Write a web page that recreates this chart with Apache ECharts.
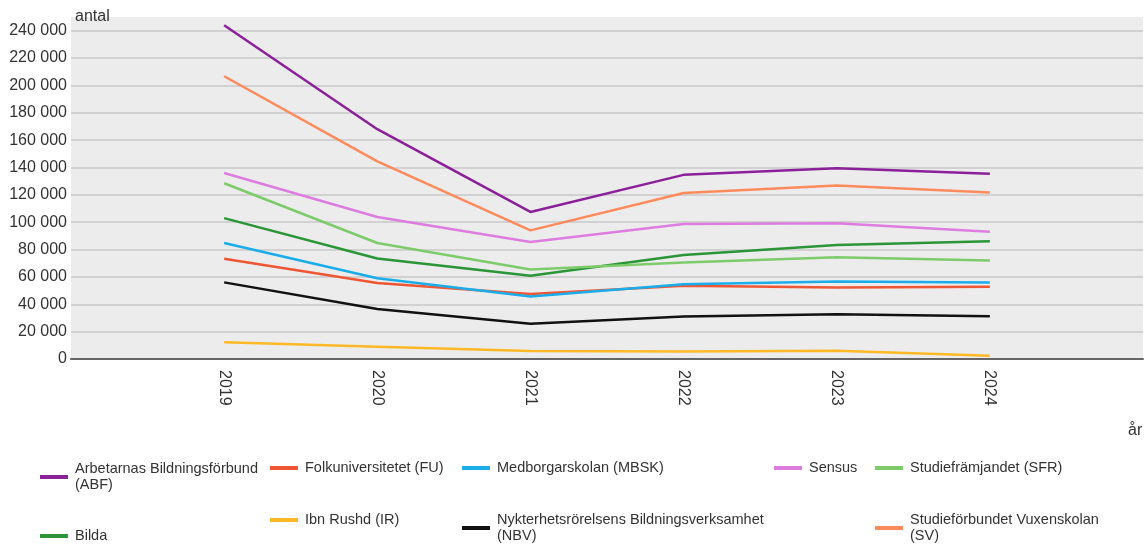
<!DOCTYPE html>
<html>
<head>
<meta charset="utf-8">
<script src="https://cdn.jsdelivr.net/npm/echarts@6/dist/echarts.min.js"></script>
<style>
html,body{margin:0;padding:0;background:#fff;}
#chart{width:1148px;height:545px;}
</style>
</head>
<body>
<div id="chart"></div>
<script>
const years = [2019, 2020, 2021, 2022, 2023, 2024];
const seriesNames = [
  'Arbetarnas Bildningsförbund (ABF)',
  'Bilda',
  'Folkuniversitetet (FU)',
  'Ibn Rushd (IR)',
  'Medborgarskolan (MBSK)',
  'Nykterhetsrörelsens Bildningsverksamhet (NBV)',
  'Sensus',
  'Studiefrämjandet (SFR)',
  'Studieförbundet Vuxenskolan (SV)'
];
const abf    = [244000, 168000, 107500, 134600, 139500, 135500];
const bilda  = [103000,  73500,  60800,  76000,  83300,  86000];
const fu     = [ 73300,  55500,  47600,  53600,  52300,  52800];
const ir     = [ 12300,   9000,   5900,   5400,   6100,   2300];
const mbsk   = [ 84800,  59000,  45700,  54600,  56600,  55900];
const nbv    = [ 56000,  36500,  25700,  31000,  32700,  31200];
const sensus = [136000, 103800,  85500,  98600,  99300,  93000];
const sfr    = [128500,  84800,  65500,  70600,  74400,  72000];
const sv     = [206700, 144500,  94000, 121300, 126800, 121800];
const seriesValues = [abf, bilda, fu, ir, mbsk, nbv, sensus, sfr, sv];
const yTicks = [0, 20000, 40000, 60000, 80000, 100000, 120000, 140000, 160000, 180000, 200000, 220000, 240000];

const colors = ['#8a2199', '#2b9538', '#ee5634', '#ffb927', '#1badea', '#111111', '#dd7ddf', '#7ecb6b', '#ff8b5d'];
const font = 'Liberation Sans, Arial, sans-serif';

// legend layout (position/style only); wrap: put abbreviation on a second line
const legendPos = [
  {left: 40,  top: 461, wrap: true},
  {left: 40,  top: 528},
  {left: 270, top: 460},
  {left: 270, top: 512},
  {left: 462, top: 460},
  {left: 462, top: 512, wrap: true},
  {left: 774, top: 460},
  {left: 875, top: 460},
  {left: 875, top: 512, wrap: true}
];

const fmt = v => String(v).replace(/\B(?=(\d{3})+(?!\d))/g, ' ');

const chart = echarts.init(document.getElementById('chart'), null, {renderer: 'canvas'});
const option = {
  animation: false,
  color: colors,
  textStyle: {fontFamily: font},
  grid: {left: 71, right: 5, top: 17, bottom: 186, show: true, backgroundColor: '#ececec', borderWidth: 0, containLabel: false},
  legend: seriesNames.map((n, i) => ({
    data: [n],
    left: legendPos[i].left,
    top: legendPos[i].top,
    padding: 0,
    icon: 'rect',
    itemWidth: 28,
    itemHeight: 4,
    selectedMode: false,
    formatter: legendPos[i].wrap ? (name => name.replace(' (', '\n(')) : '{name}',
    textStyle: {fontFamily: font, fontSize: 14.5, color: '#333', lineHeight: 16, padding: [0, 0, 0, 2]}
  })),
  xAxis: {
    type: 'value',
    min: 2018, max: 2025, interval: 1,
    name: 'år',
    nameLocation: 'end',
    nameGap: -15,
    nameTextStyle: {fontFamily: font, fontSize: 16, color: '#333', align: 'left', verticalAlign: 'top', padding: [64, 0, 0, 0]},
    axisLine: {show: true, lineStyle: {color: '#666', width: 2}},
    axisTick: {show: false},
    splitLine: {show: false},
    axisLabel: {
      rotate: -90, margin: 11, fontSize: 16, color: '#333', fontFamily: font,
      formatter: v => (years.indexOf(v) >= 0 ? String(v) : '')
    }
  },
  yAxis: {
    type: 'value',
    min: 0, max: 250000, interval: 20000,
    name: 'antal',
    nameLocation: 'end',
    nameGap: 0,
    nameTextStyle: {fontFamily: font, fontSize: 16, color: '#333', align: 'left', verticalAlign: 'middle', padding: [8, 0, 0, 4]},
    axisLine: {show: false},
    axisTick: {show: false},
    splitLine: {show: true, showMaxLine: false, lineStyle: {color: '#c8c8c8', width: 1.5}},
    axisLabel: {
      margin: 4, fontSize: 16, color: '#333', fontFamily: font, showMaxLabel: false,
      formatter: v => (yTicks.indexOf(v) >= 0 ? fmt(v) : '')
    }
  },
  series: seriesNames.map((n, i) => ({
    name: n,
    type: 'line',
    data: years.map((y, j) => [y, seriesValues[i][j]]),
    showSymbol: false,
    symbol: 'none',
    lineStyle: {width: 2.5, color: colors[i]},
    itemStyle: {color: colors[i]}
  }))
};
chart.setOption(option);
</script>
</body>
</html>
